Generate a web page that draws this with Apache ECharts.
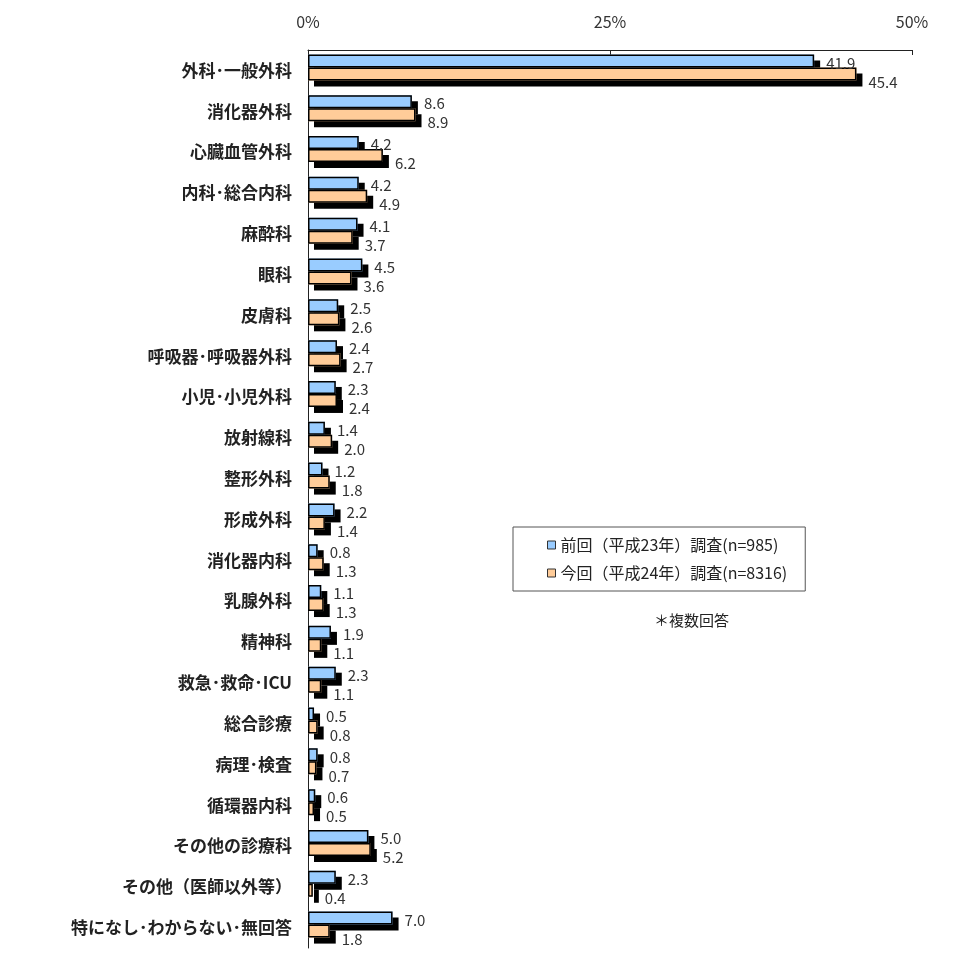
<!DOCTYPE html>
<html><head><meta charset="utf-8">
<script src="https://cdn.jsdelivr.net/npm/echarts@6/dist/echarts.min.js"></script>
<style>html,body{margin:0;padding:0;background:#fff}#c{width:976px;height:976px}</style>
</head><body><div id="c"></div>
<script>
const categories = ['外科･一般外科','消化器外科','心臓血管外科','内科･総合内科','麻酔科','眼科','皮膚科','呼吸器･呼吸器外科','小児･小児外科','放射線科','整形外科','形成外科','消化器内科','乳腺外科','精神科','救急･救命･ICU','総合診療','病理･検査','循環器内科','その他の診療科','その他（医師以外等）','特になし･わからない･無回答'];
const prevValues = [41.9,8.6,4.2,4.2,4.1,4.5,2.5,2.4,2.3,1.4,1.2,2.2,0.8,1.1,1.9,2.3,0.5,0.8,0.6,5.0,2.3,7.0];
const currValues = [45.4,8.9,6.2,4.9,3.7,3.6,2.6,2.7,2.4,2.0,1.8,1.4,1.3,1.3,1.1,1.1,0.8,0.7,0.5,5.2,0.4,1.8];
const seriesNames = ['前回（平成23年）調査(n=985)','今回（平成24年）調査(n=8316)'];
const xTicks = [0,25,50];
const noteText = '＊複数回答';

const font = '"Noto Sans CJK JP", "Noto Sans", sans-serif';
const colors = ['#99CCFF', '#FFCC99'];
const chart = echarts.init(document.getElementById('c'));

const fillLayer = (i, data) => ({
  name: seriesNames[i], type: 'bar', data: data, yAxisIndex: 0,
  barWidth: 13, barGap: '0%', z: 2,
  itemStyle: { color: colors[i], borderWidth: 0,
    shadowColor: '#000', shadowBlur: 0, shadowOffsetX: 6, shadowOffsetY: 6 }
});
const borderLayer = (i, data, dy) => ({
  name: seriesNames[i], type: 'bar', data: data, yAxisIndex: 1,
  barWidth: 13, barGap: '0%', z: 3,
  itemStyle: { color: 'rgba(0,0,0,0)', borderColor: '#000', borderWidth: 1.5 },
  label: { show: true, position: 'right', distance: 12, offset: [0, dy],
    color: '#333', fontSize: 15, fontFamily: font,
    formatter: (p) => p.value.toFixed(1) }
});
// empty spacer slot below the two bars (room for the drop shadow)
const spacer = (axis) => ({ type: 'bar', data: [], yAxisIndex: axis, barWidth: 6, barGap: '0%', silent: true });

chart.setOption({
  animation: false,
  color: colors,
  grid: { left: 308, right: 64, top: 50, bottom: 28 },
  xAxis: {
    type: 'value', position: 'top', min: 0, max: 50, interval: 25,
    axisLine: { show: true, lineStyle: { color: '#222', width: 1 } },
    axisTick: { show: true, inside: true, length: 5, lineStyle: { color: '#222' } },
    splitLine: { show: false },
    axisLabel: { margin: 20, color: '#333', fontSize: 16, fontFamily: font,
      formatter: (v) => xTicks.includes(v) ? v + '%' : '' }
  },
  yAxis: [{
    type: 'category', data: categories, inverse: true,
    axisLine: { show: true, lineStyle: { color: '#222', width: 1 } },
    axisTick: { show: false },
    axisLabel: { margin: 16, color: '#222', fontSize: 17, fontWeight: 'bold', fontFamily: font }
  }, {
    type: 'category', data: categories, inverse: true, show: false,
    position: 'left'
  }],
  legend: {
    orient: 'vertical', left: 513, top: 527,
    data: seriesNames,
    itemWidth: 8, itemHeight: 8, itemGap: 12,
    padding: [10, 18, 10, 34],
    borderColor: '#555', borderWidth: 1,
    textStyle: { color: '#222', fontSize: 16, fontFamily: font },
    icon: 'rect',
    itemStyle: { borderColor: '#333', borderWidth: 1, shadowBlur: 0, shadowOffsetX: 0, shadowOffsetY: 0, shadowColor: 'rgba(0,0,0,0)' }
  },
  graphic: [{
    type: 'text', left: 654, top: 613,
    style: { text: noteText, fill: '#222', fontSize: 15, fontFamily: font }
  }],
  series: [
    fillLayer(0, prevValues),
    fillLayer(1, currValues),
    spacer(0),
    borderLayer(0, prevValues, 2),
    borderLayer(1, currValues, 8),
    spacer(1)
  ]
});
</script></body></html>
